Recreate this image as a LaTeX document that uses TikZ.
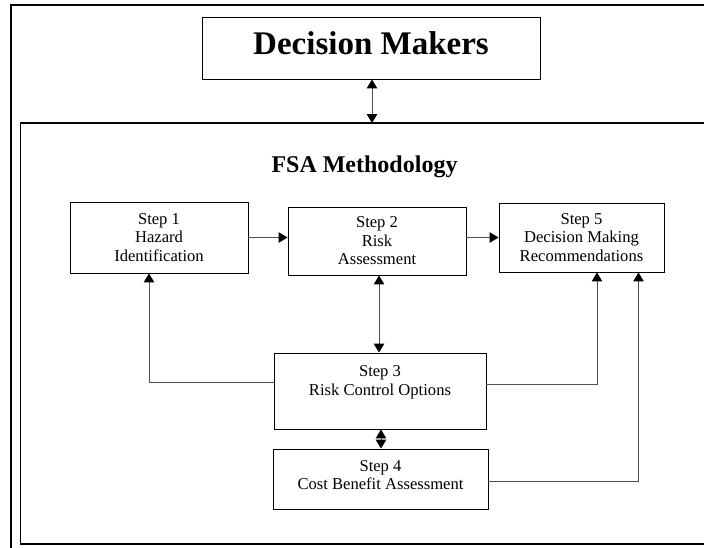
\documentclass[tikz,border=0pt]{standalone}
\usepackage{fontspec}
\setmainfont{Liberation Serif}
\usetikzlibrary{arrows.meta}
\definecolor{inkB}{HTML}{000000}
\definecolor{greyC}{HTML}{505050}
% extra depth under the last line, lifts the text in its box
\newcommand{\liftby}[1]{\rule[-#1]{0pt}{0pt}}

\tikzset{
  stepbox/.style={draw=inkB,line width=0.9pt,align=center,inner sep=0pt,
                  font=\fontsize{16.6}{18.5}\selectfont},
  link/.style={greyC,line width=1pt},
}

\begin{document}
\begin{tikzpicture}[x=1pt,y=-1pt,>={Triangle[length=9pt,width=10.5pt,color=inkB]}]
  \useasboundingbox (0,0) rectangle (704,547);
  % frames (cropped at the right)
  \draw[inkB,line width=2.6pt] (11,548) -- (11,5) -- (705,5);
  \draw[inkB,line width=1.2pt] (705,123) -- (20.5,123) -- (20.5,544) -- (705,544);
  \coordinate (innertop) at (372,123);
  % boxes
  \node[draw=inkB,line width=0.9pt,inner sep=0pt,minimum width=338pt,minimum height=62pt,
        text depth=10.5pt,font=\bfseries\fontsize{33}{36}\selectfont] (dm) at (371,48) {Decision Makers};
  \node[anchor=base,font=\bfseries\fontsize{24}{26}\selectfont] (fsa) at (364.5,172) {FSA Methodology};
  \node[stepbox,minimum width=178pt,minimum height=71pt] (hazid) at (159,237.5)
        {Step 1\\Hazard\\Identification};
  \node[stepbox,minimum width=178pt,minimum height=68pt] (riskass) at (377,241)
        {Step 2\\Risk\\Assessment};
  \node[stepbox,minimum width=165pt,minimum height=69pt] (decrec) at (581.5,237.5)
        {Step 5\\Decision Making\\Recommendations};
  \node[stepbox,minimum width=212pt,minimum height=76pt] (rco) at (380,391)
        {Step 3\\Risk Control Options\liftby{21.5pt}};
  \node[stepbox,minimum width=215pt,minimum height=60pt] (cba) at (380.5,479)
        {Step 4\\Cost Benefit Assessment\liftby{8pt}};
  % connectors
  \draw[link,<->] (dm.south -| innertop) -- (innertop);
  \draw[link,->] (hazid.east) -- (hazid.east -| riskass.west);
  \draw[link,->] (riskass.east |- decrec.west) -- (decrec.west);
  \draw[link,<->] ([xshift=2]riskass.south) -- ([xshift=2]riskass.south |- rco.north);
  \draw[link,->] ([yshift=9]rco.west) -| ([xshift=-10]hazid.south);
  \draw[link,->] ([yshift=7]rco.east) -| ([xshift=15.5]decrec.south);
  \draw[link,<->] ([xshift=1]rco.south) -- ([xshift=1]rco.south |- cba.north);
  \draw[link,->] ([yshift=-2]cba.east) -| ([xshift=57]decrec.south);
\end{tikzpicture}
\end{document}
